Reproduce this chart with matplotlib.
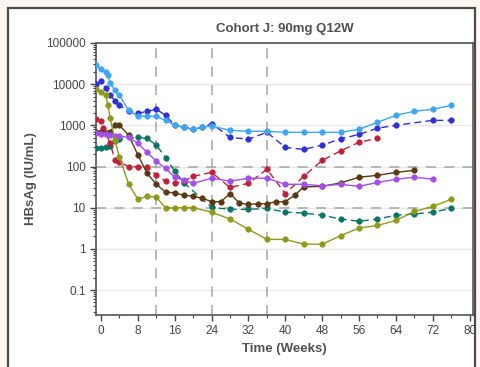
import matplotlib.pyplot as plt
from matplotlib.patches import Rectangle
from matplotlib.ticker import FixedLocator, LogLocator, NullFormatter

plt.rcParams["font.family"] = ["Liberation Sans", "DejaVu Sans"]

# weeks and HBsAg (IU/mL) per subject
wk_lblue = [-1, 0, 1, 1.5, 2, 3, 4, 6, 8, 10, 12, 14, 16, 18, 20, 22, 24, 28, 32,
            36, 40, 44, 48, 52, 56, 60, 64, 68, 72, 76]
hb_lblue = [29000, 23000, 19500, 16400, 10500, 7100, 5350, 2300, 1650, 1650, 1650,
            1320, 1000, 895, 800, 895, 960, 756, 715, 715, 676, 676, 676, 676,
            800, 1180, 1750, 2190, 2450, 3060]

wk_dblue = [-1, 0, 1, 2, 3, 4, 6, 8, 10, 12, 14, 16, 18, 20, 22, 24, 28, 32, 36,
            40, 44, 48, 52, 56, 60, 64, 72, 76]
hb_dblue = [10000, 11700, 7900, 5350, 4000, 3060, 2190, 1950, 2190, 2450, 1750,
            1000, 900, 800, 900, 1100, 510, 460, 680, 290, 260, 330, 470, 600,
            850, 1000, 1320, 1320]

wk_olive = [-1, 0, 1, 1.5, 2, 3, 4, 6, 8, 10, 12, 14, 16, 18, 20, 24, 28, 32, 36,
            40, 44, 48, 52, 56, 60, 64, 68, 72, 76]
hb_olive = [7500, 6300, 5350, 3060, 1480, 435, 166, 37, 16, 19, 18, 9.8, 10, 10, 10,
            7.8, 5.3, 3.0, 1.7, 1.7, 1.3, 1.3, 2.1, 3.2, 3.7, 4.9, 8.1, 10.7, 16]

wk_red = [-1, 0, 0.5, 1, 2, 3, 4, 6, 8, 10, 12, 14, 16, 18, 20, 24, 28, 32, 36, 40,
          44, 48, 52, 56, 60]
hb_red = [1400, 1250, 850, 640, 365, 140, 126, 100, 100, 100, 61, 44, 39, 44, 58,
          72, 31, 39, 86, 22, 58, 141, 240, 387, 483]

wk_brown = [-1, 0, 1, 2, 3, 4, 6, 8, 10, 12, 14, 16, 18, 20, 22, 24, 26, 28, 30, 32,
            34, 36, 38, 40, 42, 44, 48, 52, 56, 60, 64, 68]
hb_brown = [700, 700, 650, 700, 1000, 1000, 570, 190, 68, 37, 24, 23, 20, 19, 17, 14,
            14, 22, 13, 12, 12.5, 12.5, 14, 14, 20, 32, 33, 40, 55, 61, 72, 81]

wk_purple = [-1, 0, 1, 2, 3, 4, 6, 8, 10, 12, 14, 16, 18, 20, 24, 28, 32, 36, 40, 44,
             48, 52, 56, 60, 64, 68, 72]
hb_purple = [640, 620, 600, 580, 560, 540, 510, 365, 220, 134, 90, 55, 46, 39, 52, 44,
             52, 52, 37, 37, 34, 37, 33, 41, 49, 55, 49]

wk_teal = [-1, 0, 1, 2, 3, 4, 8, 10, 12, 14, 16, 18, 24, 28, 32, 36, 40, 44, 48, 52,
           56, 60, 64, 68, 72, 76]
hb_teal = [278, 280, 290, 320, 410, 460, 510, 480, 330, 165, 76, 40, 10.2, 9.1, 9.1,
           9.6, 7.8, 7.4, 6.6, 5.3, 4.7, 5.3, 6.6, 7.0, 7.8, 9.6]

x_ticks = [0, 8, 16, 24, 32, 40, 48, 56, 64, 72, 80]
y_ticks = [0.1, 1, 10, 100, 1000, 10000, 100000]
y_labels = ["0.1", "1", "10", "100", "1000", "10000", "100000"]
dose_weeks = [12, 24, 36]
ref_levels = [10, 100]

dash = (0, (5, 3))
# drawing order: first ones end up underneath
series = [
    (wk_dblue, hb_dblue, "#2f2fd8", dash),
    (wk_lblue, hb_lblue, "#3ea6f4", "-"),
    (wk_teal, hb_teal, "#0c7466", dash),
    (wk_red, hb_red, "#c0213a", dash),
    (wk_brown, hb_brown, "#5a3912", "-"),
    (wk_purple, hb_purple, "#a24fea", "-"),
    (wk_olive, hb_olive, "#8c9a1c", "-"),
]

fig = plt.figure(figsize=(4.8, 3.67), dpi=100, facecolor="#fcf7f1")
box = Rectangle((8 / 480, -0.05), 467 / 480, 1.05 - 8 / 367,
                transform=fig.transFigure, facecolor="white",
                edgecolor="#4a4a4a", linewidth=1.6, zorder=-5)
fig.add_artist(box)
ax = fig.add_axes([0.2, 0.142, 0.785, 0.741])
ax.set_zorder(2)

ax.set_yscale("log")
ax.set_xlim(-1.1, 80.7)
ax.set_ylim(0.025, 100000)

for v in y_ticks:
    ax.axhline(v, color="#e8e8e8", linewidth=1, zorder=0)
for w in dose_weeks:
    ax.axvline(w, color="#ababab", linewidth=1.2, linestyle=(0, (6, 5)), zorder=1)
for r in ref_levels:
    ax.axhline(r, color="#ababab", linewidth=1.2, linestyle=(0, (6, 5)), zorder=1)

for wk, hb, col, ls in series:
    ax.plot(wk, hb, color=col, linestyle=ls, linewidth=1.0, marker="o",
            markersize=4.0, markeredgewidth=0.4, zorder=3)

ax.yaxis.set_major_locator(FixedLocator(y_ticks))
ax.set_yticklabels(y_labels)
ax.yaxis.set_minor_locator(LogLocator(base=10, subs=range(2, 10), numticks=20))
ax.yaxis.set_minor_formatter(NullFormatter())
ax.set_xticks(x_ticks)
ax.set_xticks(range(4, 80, 8), minor=True)

ax.tick_params(axis="both", which="major", labelsize=8.5, colors="#444444",
               length=4, width=1, direction="out")
ax.tick_params(axis="both", which="minor", length=2, width=0.8, colors="#444444")
for s in ax.spines.values():
    s.set_color("#555555")
    s.set_linewidth(1.2)

ax.set_title("Cohort J: 90mg Q12W", fontsize=9.5, fontweight="bold", color="#505050",
             pad=8)
ax.set_xlabel("Time (Weeks)", fontsize=9.5, fontweight="bold", color="#505050",
              labelpad=4)
ax.set_ylabel("HBsAg (IU/mL)", fontsize=9.5, fontweight="bold", color="#505050",
              labelpad=6)

fig.savefig("out.png", dpi=100, facecolor=fig.get_facecolor())
